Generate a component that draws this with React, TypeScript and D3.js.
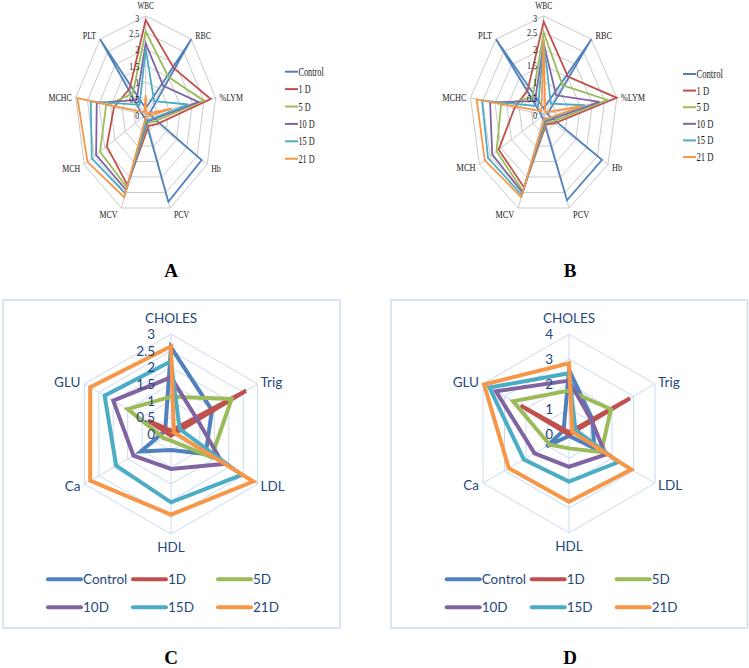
import React from "react";
import * as d3 from "d3";

// ---------- Panels A & B (haematology) ----------
const hemAxes = ["WBC", "RBC", "%LYM", "Hb", "PCV", "MCV", "MCH", "MCHC", "PLT"];
const hemSeries = ["Control", "1 D", "5 D", "10 D", "15 D", "21 D"];
const hemTicks = [0, 0.5, 1, 1.5, 2, 2.5, 3];
const hemTickLabels = ["0", "0.5", "1", "1.5", "2", "2.5", "3"];

const aControl = [0.2, 3, 0.15, 2.73, 2.8, 0.1, 0.1, 0.15, 3];
const a1D = [2.88, 1.85, 2.79, 0.55, 0.35, 2.26, 1.9, 1.36, 1.05];
const a5D = [2.53, 1.5, 2.5, 0.4, 0.25, 2.33, 2.23, 1.7, 0.85];
const a10D = [2.17, 1.15, 2.26, 0.3, 0.2, 2.42, 2.42, 2.1, 0.6];
const a15D = [2.02, 0.55, 1.83, 0.25, 0.15, 2.53, 2.63, 2.36, 0.4];
const a21D = [0.6, 0.05, 1.11, 0.1, 0.05, 2.65, 2.84, 2.93, 0.1];

const bControl = [0.2, 3, 0.15, 2.72, 2.75, 0.1, 0.1, 0.1, 3];
const b1D = [2.83, 1.52, 3.0, 0.5, 0.3, 2.33, 2.1, 1.2, 1.0];
const b5D = [2.5, 1.18, 2.62, 0.4, 0.25, 2.45, 2.2, 1.75, 0.7];
const b10D = [2.17, 0.78, 2.29, 0.3, 0.2, 2.5, 2.4, 2.2, 0.55];
const b15D = [2.25, 0.45, 1.7, 0.25, 0.15, 2.58, 2.6, 2.53, 0.35];
const b21D = [2.3, 0.1, 1.6, 0.2, 0.1, 2.65, 2.75, 2.75, 0.15];

// ---------- Panels C & D (biochemistry) ----------
const bioAxes = ["CHOLES", "Trig", "LDL", "HDL", "Ca", "GLU"];
const bioSeries = ["Control", "1D", "5D", "10D", "15D", "21D"];
const cTicks = [0, 0.5, 1, 1.5, 2, 2.5, 3];
const cTickLabels = ["0", "0.5", "1", "1.5", "2", "2.5", "3"];
const dTicks = [0, 1, 2, 3, 4];
const dTickLabels = ["0", "1", "2", "3", "4"];

const cControl = [2.6, 1.42, 1.2, 0.48, 1.05, 0.2];
const c1D = [0.1, 2.6, 0.05, 0.05, 0.05, 0.8];
const c5D = [1.12, 2.1, 1.4, 0.2, 0.25, 1.5];
const c10D = [1.7, 0.9, 1.8, 1.05, 1.3, 2.0];
const c15D = [2.18, 0.3, 2.45, 2.05, 1.9, 2.3];
const c21D = [2.63, 0.1, 2.85, 2.42, 2.8, 2.8];

const dControl = [2.56, 1.1, 1.17, 0.1, 1.05, 0.25];
const d1D = [0.05, 2.84, 0.05, 0.05, 0.05, 2.25];
const d5D = [1.73, 1.95, 1.5, 0.6, 0.9, 2.6];
const d10D = [2.13, 1.05, 1.7, 1.34, 1.6, 3.4];
const d15D = [2.43, 0.3, 2.3, 1.94, 2.1, 3.7];
const d21D = [2.83, 0.15, 2.9, 2.75, 2.8, 3.95];

const colors = ["#4F81BD", "#C0504D", "#9BBB59", "#8064A2", "#4BACC6", "#F79646"];

const serif = "'Liberation Serif', 'Times New Roman', serif";
const sans = "Lato, 'Open Sans', sans-serif";
const blueText = "#1F497D";

type HemProps = {
  cx: number; cy: number; R: number; sx: number;
  data: number[][]; legX: number; legY: number; legStep: number;
};

function HemRadar({ cx, cy, R, sx, data, legX, legY, legStep }: HemProps) {
  const n = hemAxes.length;
  const r = d3.scaleLinear().domain([0, 3]).range([0, R]);
  const ang = (i: number) => (i * 2 * Math.PI) / n;
  const pt = (i: number, v: number): [number, number] => [
    cx + sx * r(v) * Math.sin(ang(i)),
    cy - r(v) * Math.cos(ang(i)),
  ];
  const line = d3.line<[number, number]>().curve(d3.curveLinearClosed);
  return (
    <g>
      {hemTicks.map((t) => (
        <path key={"g" + t} d={line(hemAxes.map((_, i) => pt(i, t))) || ""}
          fill="none" stroke="#C4C4C4" strokeWidth={0.9} />
      ))}
      {hemAxes.map((_, i) => {
        const [x, y] = pt(i, 3);
        return <line key={"s" + i} x1={cx} y1={cy} x2={x} y2={y} stroke="#C4C4C4" strokeWidth={0.9} />;
      })}
      {data.map((s, k) => (
        <path key={"d" + k} d={line(s.map((v, i) => pt(i, v))) || ""}
          fill="none" stroke={colors[k]} strokeWidth={1.8} strokeLinejoin="miter" />
      ))}
      {hemTicks.map((t, j) => (
        <text key={"t" + t} transform={`translate(${cx - 6.5},${cy - r(t) + (t === 3 ? 2 : 0)}) scale(${sx},1)`}
          textAnchor="end" dominantBaseline="central" fontFamily={serif} fontSize={11} fill="#1a1a1a">
          {hemTickLabels[j]}
        </text>
      ))}
      {hemAxes.map((a, i) => {
        const [vx, vy] = pt(i, 3);
        const s = Math.sin(ang(i));
        const c = Math.cos(ang(i));
        const anchor = s > 0.1 ? "start" : s < -0.1 ? "end" : "middle";
        const x = vx + (s > 0.1 ? 4 : s < -0.1 ? -4 : 0);
        const y = i === 0 ? vy - 10 : vy - c * 6;
        return (
          <text key={"a" + i} transform={`translate(${x},${y}) scale(${sx},1)`}
            textAnchor={anchor} dominantBaseline="central" fontFamily={serif} fontSize={i === 0 ? 10 : 11} fill="#1a1a1a">
            {a}
          </text>
        );
      })}
      {hemSeries.map((name, k) => {
        const y = legY + k * legStep;
        return (
          <g key={"l" + k}>
            <line x1={legX} x2={legX + 13} y1={y} y2={y} stroke={colors[k]} strokeWidth={2} />
            <text transform={`translate(${legX + 13.5},${y}) scale(${sx},1)`} dominantBaseline="central"
              fontFamily={serif} fontSize={11.5} fill="#1a1a1a">{name}</text>
          </g>
        );
      })}
    </g>
  );
}

type BioProps = {
  cx: number; cy: number; R: number; max: number; ticks: number[]; tickLabels: string[];
  data: number[][]; legXs: number[]; legYs: number[];
};

function BioRadar({ cx, cy, R, max, ticks, tickLabels, data, legXs, legYs }: BioProps) {
  const n = bioAxes.length;
  const r = d3.scaleLinear().domain([0, max]).range([0, R]);
  const ang = (i: number) => (i * 2 * Math.PI) / n;
  const pt = (i: number, v: number): [number, number] => [
    cx + r(v) * Math.sin(ang(i)),
    cy - r(v) * Math.cos(ang(i)),
  ];
  const line = d3.line<[number, number]>().curve(d3.curveLinearClosed);
  return (
    <g>
      {ticks.map((t) => (
        <path key={"g" + t} d={line(bioAxes.map((_, i) => pt(i, t))) || ""}
          fill="none" stroke="#C9DAF0" strokeWidth={1} />
      ))}
      {bioAxes.map((_, i) => {
        const [x, y] = pt(i, max);
        return <line key={"s" + i} x1={cx} y1={cy} x2={x} y2={y} stroke="#C9DAF0" strokeWidth={1} />;
      })}
      {data.map((s, k) => (
        <path key={"d" + k} d={line(s.map((v, i) => pt(i, v))) || ""}
          fill="none" stroke={colors[k]} strokeWidth={4} strokeLinejoin="miter" />
      ))}
      {ticks.map((t, j) => (
        <text key={"t" + t} x={cx - 16} y={cy - r(t)} textAnchor="end" dominantBaseline="central"
          fontFamily={sans} fontSize={13.5} fill={blueText}>{tickLabels[j]}</text>
      ))}
      {bioAxes.map((a, i) => {
        const [vx, vy] = pt(i, max);
        const s = Math.sin(ang(i));
        const c = Math.cos(ang(i));
        const anchor = s > 0.1 ? "start" : s < -0.1 ? "end" : "middle";
        const x = vx + (s > 0.1 ? 3 : s < -0.1 ? -4 : 0);
        const y = i === 0 ? vy - 16 : i === 3 ? vy + 13 : vy - c * 4;
        return (
          <text key={"a" + i} x={x} y={y} textAnchor={anchor} dominantBaseline="central"
            fontFamily={sans} fontSize={13.5} fill={blueText}>{a}</text>
        );
      })}
      {bioSeries.map((name, k) => {
        const x = legXs[k % 3];
        const y = legYs[Math.floor(k / 3)];
        return (
          <g key={"l" + k}>
            <line x1={x} x2={x + 33} y1={y} y2={y} stroke={colors[k]} strokeWidth={4} strokeLinecap="round" />
            <text x={x + 35} y={y} dominantBaseline="central" fontFamily={sans} fontSize={13.5} fill={blueText}>
              {name}
            </text>
          </g>
        );
      })}
    </g>
  );
}

export default function App() {
  return (
    <svg width={749} height={668} style={{ position: "absolute", left: 0, top: 0, background: "#fff" }}>
      <rect x={0} y={0} width={749} height={668} fill="#fff" />
      <HemRadar cx={145.7} cy={115} R={99} sx={0.717}
        data={[aControl, a1D, a5D, a10D, a15D, a21D]} legX={285} legY={71.7} legStep={17.4} />
      <HemRadar cx={543.7} cy={115} R={99} sx={0.75}
        data={[bControl, b1D, b5D, b10D, b15D, b21D]} legX={683} legY={74} legStep={16.6} />
      <text x={171} y={277} textAnchor="middle" fontFamily={serif} fontWeight="bold" fontSize={19} fill="#000">A</text>
      <text x={570} y={277} textAnchor="middle" fontFamily={serif} fontWeight="bold" fontSize={19} fill="#000">B</text>

      <rect x={3} y={300} width={337} height={328} fill="none" stroke="#CFDDF0" strokeWidth={1.5} />
      <rect x={391} y={300} width={356.5} height={328} fill="none" stroke="#CFDDF0" strokeWidth={1.5} />
      <BioRadar cx={171} cy={434} R={100} max={3} ticks={cTicks} tickLabels={cTickLabels}
        data={[cControl, c1D, c5D, c10D, c15D, c21D]} legXs={[48, 133, 218]} legYs={[579.3, 607.3]} />
      <BioRadar cx={569} cy={433.5} R={99.3} max={4} ticks={dTicks} tickLabels={dTickLabels}
        data={[dControl, d1D, d5D, d10D, d15D, d21D]} legXs={[446.7, 531.7, 616.7]} legYs={[579.3, 607.3]} />
      <text x={171} y={664} textAnchor="middle" fontFamily={serif} fontWeight="bold" fontSize={19} fill="#000">C</text>
      <text x={570} y={664} textAnchor="middle" fontFamily={serif} fontWeight="bold" fontSize={19} fill="#000">D</text>
    </svg>
  );
}
